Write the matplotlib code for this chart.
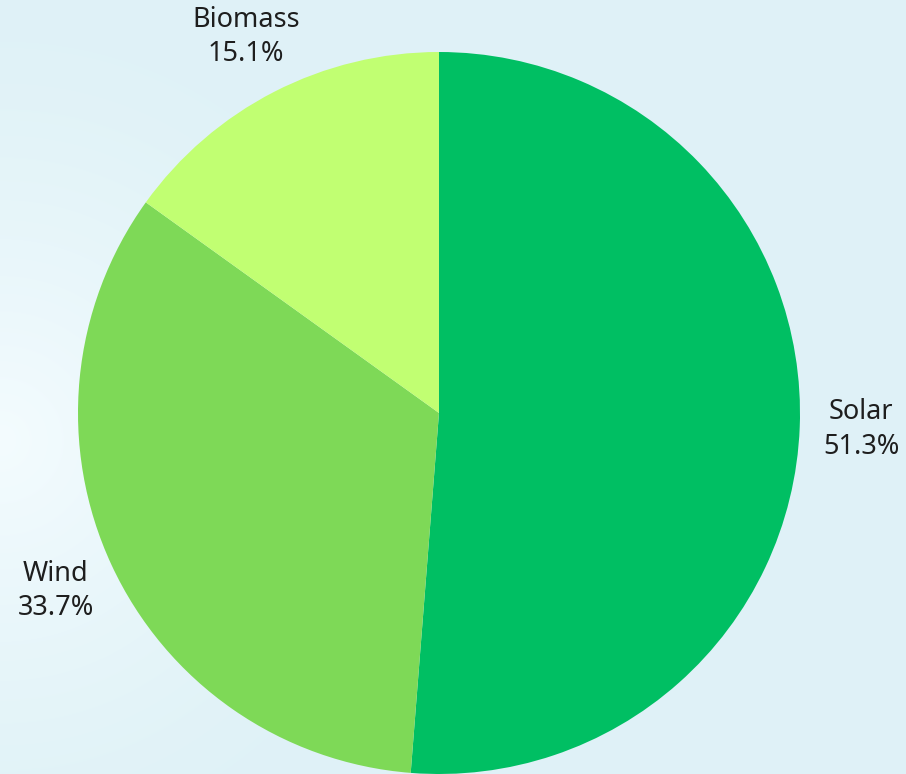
import numpy as np
import matplotlib.pyplot as plt

# Share of renewable generation by source
sources = ['Solar', 'Wind', 'Biomass']
shares = [51.3, 33.7, 15.1]
colors = ['#00BF63', '#7ED957', '#C1FF72']

W, H = 906, 774
R = 361
cx, cy = 439, 361  # pie centre, pixels from bottom-left

fig = plt.figure(figsize=(W / 100, H / 100), dpi=100)

# light blue background with a soft white glow on the left
bg = fig.add_axes([0, 0, 1, 1])
yy, xx = np.mgrid[0:H, 0:W]
d = np.hypot(xx - 0, yy - 440) / 400.0
glow = np.clip(1 - d, 0, 1) ** 1.3
base = np.array([0.878, 0.949, 0.969])
white = np.array([0.957, 0.988, 0.998])
img = base[None, None, :] + glow[..., None] * (white - base)[None, None, :]
bg.imshow(img, extent=[0, W, 0, H], origin='upper', aspect='auto')
bg.axis('off')

ax = fig.add_axes([0, 0, 1, 1])
ax.patch.set_alpha(0)
wedges, texts = ax.pie(shares, colors=colors, startangle=90, counterclock=False,
                       radius=R, center=(0, 0), labeldistance=1.17,
                       labels=[f'{s}\n{v}%' for s, v in zip(sources, shares)],
                       textprops=dict(fontsize=19.5, color='#1e1e1e',
                                      family='Noto Sans', linespacing=1.3))
for t in texts:
    t.set_ha('center')
    t.set_va('center')
ax.set_xlim(-cx, W - cx)
ax.set_ylim(-cy, H - cy)
ax.set_aspect('equal')
ax.axis('off')

fig.savefig('out.png', dpi=100)
